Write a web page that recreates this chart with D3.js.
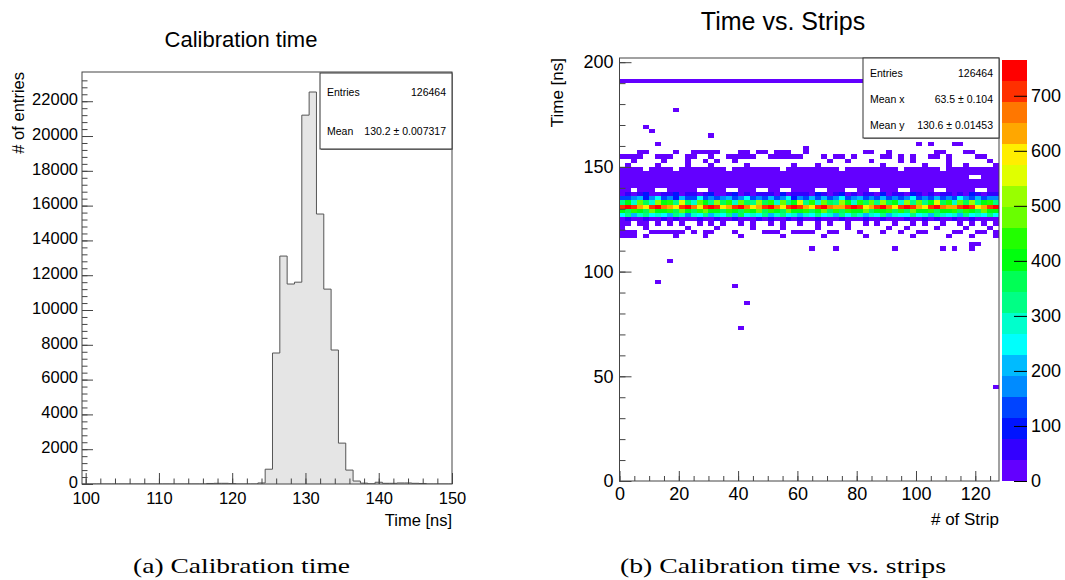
<!DOCTYPE html>
<html><head><meta charset="utf-8">
<script src="https://cdn.jsdelivr.net/npm/d3@7"></script>
<style>
body{margin:0;background:#fff}
svg{display:block;font-family:"Liberation Sans",Arial,Helvetica,sans-serif}
</style></head>
<body><svg id="c" width="1065" height="580"></svg>
<script>
// ---------------- Left: 1D histogram (bin centres in ns, counts) ----------------
const timeCenters = [117,118,119,120,124,125,126,127,128,129,130,131,132,133,134,135,136,137,138,139,140,141,142,143,144,145,146];
const timeCounts  = [30,40,40,20,60,850,7529,13100,11494,11600,21200,22530,15517,11200,7700,2350,800,170,50,10,100,40,40,60,60,40,30];
const leftYTicks = [0,2000,4000,6000,8000,10000,12000,14000,16000,18000,20000,22000];
const leftXTicks = [100,110,120,130,140,150];
const leftStats = [["Entries","126464"],["Mean","130.2 \u00b1 0.007317"]];

// ---------------- Right: 2D histogram (64 strip bins of 2, time bins of 2 ns) ----------------
const row190 = [14,16,15,13,17,15,14,16, 15,18,14,15,16,13,15,17, 14,16,15,14,16,15,17,13, 15,16,14,15,17,16,14,15, 13,16,15,14,17,15,16,14, 15,13,16,15,17,14,15,16, 14,15,13,17,16,15,14,16, 15,13,17,15,14,16,15,14];
const row148 = [3,2,1,2,0,3,2,1, 2,0,1,3,2,1,2,1, 3,2,0,1,2,3,1,2, 1,2,3,0,2,1,2,1, 3,1,2,2,1,0,2,3, 1,2,1,2,3,1,2,0, 2,1,3,2,1,2,0,1, 2,3,1,2,1,2,1,3];
const row146 = [4,5,3,6,4,5,4,3, 5,4,6,3,4,5,4,6, 3,5,4,4,6,3,5,4, 4,6,3,5,4,5,3,4, 6,4,5,3,4,6,5,4, 3,5,4,6,4,3,5,4, 6,4,5,3,4,5,4,6, 3,4,5,4,6,5,3,4];
const row144 = [6,5,7,6,5,8,6,7, 5,6,7,5,8,6,5,7, 6,7,5,6,8,5,7,6, 5,7,6,8,5,6,7,5, 6,8,5,7,6,5,7,6, 8,5,6,7,5,6,8,7, 5,6,7,5,6,8,5,7, 6,5,7,0,0,6,5,7];
const row142 = [9,8,10,9,11,8,9,10, 8,11,9,10,8,9,11,10, 9,8,10,11,9,8,10,9, 11,10,8,9,10,11,9,8, 10,9,11,8,10,9,8,11, 9,10,8,11,9,10,9,8, 11,9,10,8,9,11,10,9, 8,10,9,11,8,9,10,9];
const row140 = [12,14,11,13,15,12,14,13, 11,15,13,12,14,11,13,15, 12,14,13,11,15,12,13,14, 11,13,15,12,14,13,11,12, 14,15,12,13,11,14,12,15, 13,11,14,12,15,13,12,11, 14,12,13,15,11,14,13,12, 15,11,13,14,12,13,15,11];
const row138 = [16,18,0,17,19,16,0,0, 17,18,16,19,17,0,0,18, 16,17,0,0,19,16,18,0, 0,17,16,0,0,18,19,16, 17,0,0,18,16,17,0,0, 19,16,0,0,17,18,16,0, 0,18,17,16,19,0,0,17, 18,16,19,17,0,0,18,17];
const row136 = [30,60,25,45,80,35,28,50, 40,90,32,55,70,30,45,85, 38,26,60,95,34,48,30,75, 42,58,36,88,30,50,44,65, 32,78,40,28,62,92,35,48, 30,70,45,38,100,34,52,40, 28,82,46,36,60,30,72,44, 38,56,30,90,42,35,64,48];
const row134 = [150,120,180,210,110,160,240,130, 175,105,200,150,125,230,140,170, 115,190,220,135,160,250,120,185, 145,205,130,165,240,110,175,150, 195,125,215,140,170,235,120,160, 205,135,180,115,225,150,170,130, 190,240,140,165,120,210,150,185, 130,245,160,120,200,140,175,155];
const row132 = [330,420,280,480,360,300,520,390, 450,310,540,370,290,460,400,330, 500,350,430,280,470,380,310,530, 360,440,300,490,340,410,560,320, 450,290,480,370,330,510,390,300, 440,350,470,310,530,380,420,290, 500,340,460,320,390,540,360,430, 300,470,350,510,330,400,450,310];
const row130 = [700,745,690,640,600,710,760,680, 620,590,700,740,660,600,710,750, 690,610,650,720,760,680,600,640, 700,745,670,610,690,735,700,630, 600,710,755,680,620,650,720,760, 690,600,640,700,740,670,610,690, 730,700,630,590,710,750,680,620, 650,720,765,690,600,640,700,735];
const row128 = [420,380,450,400,360,470,410,390, 440,370,460,400,350,430,480,390, 410,370,450,420,360,440,400,470, 380,430,410,360,460,390,420,450, 370,400,470,380,430,360,440,410, 390,460,370,420,400,450,380,430, 360,470,410,390,440,370,420,400, 450,380,430,410,360,460,390,420];
const row126 = [250,310,200,280,340,230,300,260, 220,320,270,190,300,250,330,210, 280,240,310,200,350,260,290,230, 310,220,270,330,240,300,210,280, 260,320,230,290,200,340,250,310, 270,220,300,240,330,210,280,260, 230,310,250,290,200,320,270,240, 300,220,340,260,280,230,310,250];
const row124 = [20,45,10,30,60,15,25,40, 12,55,22,35,8,48,18,30, 42,14,28,65,20,36,10,50, 25,40,16,32,58,12,44,22, 30,52,18,38,10,46,24,34, 14,60,28,20,42,16,36,26, 48,12,32,54,22,40,18,30, 44,26,10,50,34,20,38,28];
// isolated cells: [strip bin, lower time edge (ns), count]
const sparseCells = [
 [9,176,1],[4,168,1],[5,166,1],[15,164,1],[6,160,1],[50,160,1],[52,160,1],[56,160,1],[57,160,1],[31,158,1],
 [3,156,1],[4,156,1],[9,156,1],[12,156,1],[13,156,1],[14,156,1],[15,156,1],[16,156,1],[20,156,1],[21,156,1],[23,156,1],[24,156,1],[26,156,1],[27,156,1],[28,156,1],[31,156,1],[41,156,1],[42,156,1],[45,156,1],[53,156,1],[54,156,1],[58,156,1],[59,156,1],
 [0,154,1],[1,154,1],[2,154,1],[3,154,1],[6,154,1],[7,154,1],[8,154,1],[11,154,1],[12,154,1],[15,154,1],[18,154,1],[19,154,1],[20,154,1],[21,154,1],[22,154,1],[25,154,1],[26,154,1],[27,154,1],[28,154,1],[29,154,1],[30,154,1],[34,154,1],[36,154,1],[37,154,1],[39,154,1],[44,154,1],[45,154,1],[47,154,1],[49,154,1],[52,154,1],[53,154,1],[55,154,1],[60,154,1],[61,154,1],
 [2,152,1],[7,152,1],[11,152,1],[14,152,1],[16,152,1],[19,152,1],[35,152,1],[38,152,1],[42,152,1],[47,152,1],[49,152,1],[55,152,1],[62,152,1],
 [1,150,1],[6,150,1],[11,150,1],[15,150,1],[21,150,1],[29,150,1],[33,150,1],[44,150,1],[51,150,1],[55,150,1],[58,150,1],[63,150,1],
 [0,122,2],[1,122,2],[3,122,1],[4,122,2],[6,122,1],[8,122,2],[10,122,1],[13,122,2],[15,122,1],[17,122,2],[20,122,1],[22,122,2],[25,122,1],[27,122,2],[30,122,1],[33,122,2],[35,122,1],[38,122,2],[41,122,1],[43,122,2],[46,122,1],[49,122,2],[51,122,1],[54,122,2],[57,122,1],[59,122,2],[61,122,1],[63,122,2],
 [0,120,1],[4,120,1],[11,120,1],[16,120,1],[22,120,1],[27,120,1],[33,120,1],[38,120,1],[45,120,1],[48,120,1],[53,120,1],[58,120,1],[62,120,1],
 [0,118,1],[1,118,1],[2,118,1],[5,118,1],[6,118,1],[7,118,1],[8,118,1],[9,118,1],[10,118,1],[12,118,1],[14,118,1],[15,118,1],[19,118,1],[24,118,1],[25,118,1],[26,118,1],[29,118,1],[30,118,1],[31,118,1],[32,118,1],[35,118,1],[36,118,1],[40,118,1],[44,118,1],[47,118,1],[50,118,1],[51,118,1],[56,118,1],[57,118,1],[60,118,1],[61,118,1],[63,118,1],
 [0,116,1],[1,116,1],[2,116,1],[4,116,1],[9,116,1],[14,116,1],[20,116,1],[27,116,1],[34,116,1],[41,116,1],[49,116,1],[55,116,1],[59,116,1],[63,116,1],
 [32,110,1],[36,110,1],[46,110,1],[54,110,1],[56,110,1],[59,110,1],[59,112,1],[60,112,1],
 [8,104,1],[6,94,1],[19,92,1],[21,84,1],[20,72,1],[63,44,1]
];
const denseRows = [[190,row190],[148,row148],[146,row146],[144,row144],[142,row142],[140,row140],[138,row138],[136,row136],[134,row134],[132,row132],[130,row130],[128,row128],[126,row126],[124,row124]];
const rightXTicks = [0,20,40,60,80,100,120];
const rightYTicks = [0,50,100,150,200];
const zTicks = [0,100,200,300,400,500,600,700];
const rightStats = [["Entries","126464"],["Mean x","63.5 \u00b1  0.104"],["Mean y","130.6 \u00b1 0.01453"]];

const svg = d3.select("#c");
const frameColor = "#444";
const SANS = "'Liberation Sans', Arial, Helvetica, sans-serif";
const SERIF = "'Liberation Serif', 'Times New Roman', serif";

// ===================== LEFT PANEL =====================
const xL = d3.scaleLinear().domain([99.5,150]).range([82,452]);
const yL = d3.scaleLinear().domain([0,23680]).range([484,72]);

svg.append("text").attr("x",241).attr("y",47).attr("text-anchor","middle").attr("font-size",22).text("Calibration time");

const bins = d3.range(100,151).map(c=>{const i=timeCenters.indexOf(c);return {c, v: i<0?0:timeCounts[i]};});
const pts = bins.map(b=>[b.c-0.5,b.v]); pts.push([150,bins[bins.length-1].v]);
svg.append("clipPath").attr("id","clipL").append("rect").attr("x",82).attr("y",72).attr("width",370).attr("height",412);
const gH = svg.append("g").attr("clip-path","url(#clipL)");
gH.append("path").datum(pts).attr("fill","#e5e5e5")
  .attr("d",d3.area().curve(d3.curveStepAfter).x(d=>xL(d[0])).y0(yL(0)).y1(d=>yL(d[1])));
gH.append("path").datum(pts).attr("fill","none").attr("stroke","#555").attr("stroke-width",1)
  .attr("d",d3.line().curve(d3.curveStepAfter).x(d=>xL(d[0])).y(d=>yL(d[1])));

function styleAxis(g){g.select(".domain").remove();g.selectAll("line").attr("stroke",frameColor);g.selectAll("text").style("font-family",SANS).attr("fill","#000");}
svg.append("g").attr("transform","translate(82,0)")
  .call(d3.axisLeft(yL).tickValues(d3.range(0,23600,400)).tickSize(-5.5).tickFormat("")).call(styleAxis);
svg.append("g").attr("transform","translate(82,0)")
  .call(d3.axisLeft(yL).tickValues(leftYTicks).tickSize(-11).tickPadding(4).tickFormat(d3.format("d"))).call(styleAxis)
  .selectAll("text").attr("font-size",16.5).attr("dy","0.2em");
svg.append("g").attr("transform","translate(0,484)")
  .call(d3.axisBottom(xL).tickValues(d3.range(100,151,2)).tickSize(-5.5).tickFormat("")).call(styleAxis);
svg.append("g").attr("transform","translate(0,484)")
  .call(d3.axisBottom(xL).tickValues(leftXTicks).tickSize(-11).tickPadding(8).tickFormat(d3.format("d"))).call(styleAxis)
  .selectAll("text").attr("font-size",16.5);
svg.append("rect").attr("x",82).attr("y",72).attr("width",370).attr("height",412).attr("fill","none").attr("stroke",frameColor);

svg.append("text").attr("x",452).attr("y",526).attr("text-anchor","end").attr("font-size",16.5).text("Time [ns]");
svg.append("text").attr("transform","translate(24,72) rotate(-90)").attr("text-anchor","end").attr("font-size",16.5).text("# of entries");

function statsBox(x,y,w,h,rows,lineY){
  svg.append("rect").attr("x",x+1).attr("y",y+1).attr("width",w).attr("height",h).attr("fill","#888");
  svg.append("rect").attr("x",x).attr("y",y).attr("width",w).attr("height",h).attr("fill","#fff").attr("stroke","#333");
  rows.forEach((r,i)=>{
    svg.append("text").attr("x",x+7).attr("y",lineY[i]).attr("font-size",10.5).text(r[0]);
    svg.append("text").attr("x",x+w-6).attr("y",lineY[i]).attr("font-size",10.5).attr("text-anchor","end").text(r[1]);
  });
}
statsBox(320,73,132,76,leftStats,[96,135]);

// ===================== RIGHT PANEL =====================
const xR = d3.scaleLinear().domain([0,128]).range([619.5,999]);
const yR = d3.scaleLinear().domain([0,202]).range([481,58]);
const zMax = 765, nLev = 20;
function levelColor(k){const i=Math.floor((k+0.99)*50/nLev);const hue=280-(i+1)*5.6;return d3.hsl(hue,1,0.5).formatHex();}
function cellColor(v){let k=Math.floor(v/zMax*nLev);if(k>=nLev)k=nLev-1;return levelColor(k);}

svg.append("text").attr("x",783).attr("y",30).attr("text-anchor","middle").attr("font-size",25).text("Time vs. Strips");

const cells=[];
denseRows.forEach(([t,arr])=>arr.forEach((v,c)=>{if(v>0)cells.push({c,t,v});}));
sparseCells.forEach(([c,t,v])=>cells.push({c,t,v}));
svg.append("g").selectAll("rect").data(cells).join("rect")
  .attr("x",d=>xR(2*d.c)).attr("width",d=>xR(2*d.c+2)-xR(2*d.c))
  .attr("y",d=>yR(d.t+2)).attr("height",d=>yR(d.t)-yR(d.t+2))
  .attr("fill",d=>cellColor(d.v)).attr("shape-rendering","crispEdges");

svg.append("g").attr("transform","translate(619.5,0)")
  .call(d3.axisLeft(yR).tickValues(d3.range(0,201,10)).tickSize(-6).tickFormat("")).call(styleAxis);
svg.append("g").attr("transform","translate(619.5,0)")
  .call(d3.axisLeft(yR).tickValues(rightYTicks).tickSize(-12).tickPadding(6).tickFormat(d3.format("d"))).call(styleAxis)
  .selectAll("text").attr("font-size",18);
svg.append("g").attr("transform","translate(0,481)")
  .call(d3.axisBottom(xR).tickValues(d3.range(0,129,5)).tickSize(-5).tickFormat("")).call(styleAxis);
svg.append("g").attr("transform","translate(0,481)")
  .call(d3.axisBottom(xR).tickValues(rightXTicks).tickSize(-10).tickPadding(6).tickFormat(d3.format("d"))).call(styleAxis)
  .selectAll("text").attr("font-size",18);
svg.append("rect").attr("x",619.5).attr("y",58).attr("width",379.5).attr("height",423).attr("fill","none").attr("stroke",frameColor);

svg.append("text").attr("x",999).attr("y",525).attr("text-anchor","end").attr("font-size",17).text("# of Strip");
svg.append("text").attr("transform","translate(563,58) rotate(-90)").attr("text-anchor","end").attr("font-size",17).text("Time [ns]");

const zS = d3.scaleLinear().domain([0,zMax]).range([481,60]);
const levels = d3.range(nLev);
svg.append("g").selectAll("rect").data(levels).join("rect")
  .attr("x",1002).attr("width",25).attr("y",k=>zS((k+1)*zMax/nLev)).attr("height",k=>zS(k*zMax/nLev)-zS((k+1)*zMax/nLev))
  .attr("fill",k=>levelColor(k)).attr("shape-rendering","crispEdges");
svg.append("g").attr("transform","translate(1027,0)")
  .call(d3.axisRight(zS).tickValues(zTicks).tickSize(-13).tickPadding(4).tickFormat(d3.format("d")))
  .call(g=>{g.select(".domain").remove();g.selectAll("line").attr("stroke","#000");g.selectAll("text").style("font-family",SANS).attr("fill","#000").attr("font-size",18);});

statsBox(863,58,136,80,rightStats,[77,103,129]);

// ===================== captions =====================
svg.append("text").attr("x",133).attr("y",573).style("font-family",SERIF).attr("font-size",22)
  .attr("textLength",217).attr("lengthAdjust","spacingAndGlyphs").text("(a) Calibration time");
svg.append("text").attr("x",620).attr("y",573).style("font-family",SERIF).attr("font-size",22)
  .attr("textLength",326).attr("lengthAdjust","spacingAndGlyphs").text("(b) Calibration time vs. strips");
</script></body></html>
